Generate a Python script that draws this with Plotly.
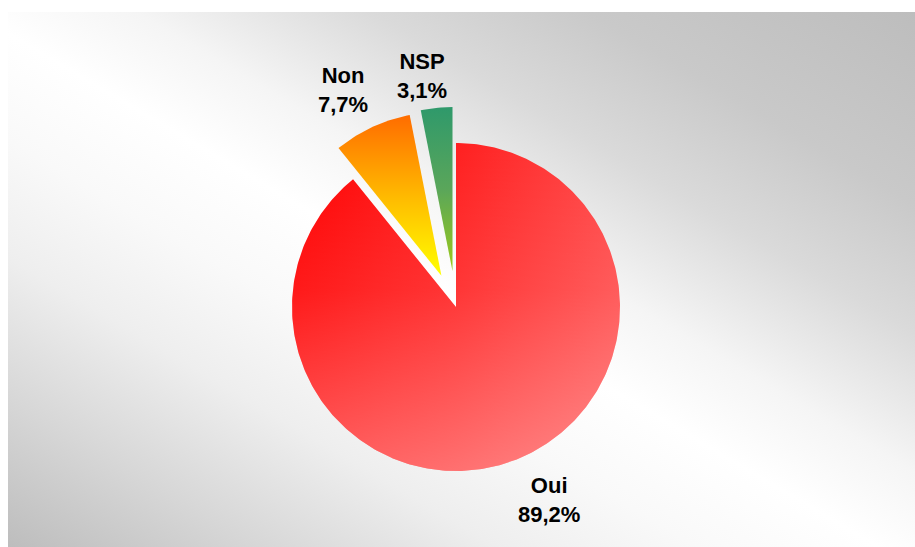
import base64
import numpy as np
import plotly.graph_objects as go

# Survey answers and their shares (%)
labels = ["Oui", "Non", "NSP"]
values = [89.2, 7.7, 3.1]

# ---- layout / styling ----
W, H = 915, 547                 # figure size in px
CX, CY, R = 456, 307, 164       # pie centre (px from top-left) and radius (px)
pulls = [0.0, 0.21, 0.22]       # explode distance, as a fraction of the radius
label_px = [(549, 500), (343, 90), (422, 76)]   # label centres (px from top-left)

# colour ramps per slice: (orientation, colorscale)
fills = [
    ("horizontal", [[0, "#ff0000"], [0.5, "#ff2020"], [1, "#ff4a4a"]]),
    ("vertical", [[0, "#ffff00"], [0.45, "#ffc000"], [1, "#ff6c00"]]),
    ("vertical", [[0, "#9ccb1a"], [0.5, "#5aa65a"], [1, "#2f996b"]]),
]
# extra soft highlight laid over the first slice (lighter towards the bottom)
highlight = [[0, "rgba(255,255,255,0.36)"], [0.55, "rgba(255,255,255,0.10)"],
             [1, "rgba(255,255,255,0)"]]

fig = go.Figure()

total = float(sum(values))
start = 0.0
for i, (lab, v) in enumerate(zip(labels, values)):
    th0 = start
    th1 = start + 2 * np.pi * v / total
    start = th1
    mid = 0.5 * (th0 + th1)
    ox, oy = pulls[i] * np.sin(mid), pulls[i] * np.cos(mid)
    t = np.linspace(th0, th1, max(8, int(400 * v / total)))
    xs = np.concatenate([[ox], ox + np.sin(t), [ox]])
    ys = np.concatenate([[oy], oy + np.cos(t), [oy]])
    orient, cs = fills[i]
    fig.add_trace(go.Scatter(
        x=xs, y=ys, mode="lines", fill="toself",
        line=dict(width=0, color="rgba(0,0,0,0)"),
        fillgradient=dict(type=orient, colorscale=cs),
        hoverinfo="skip", showlegend=False, name=lab,
    ))
    if i == 0:
        fig.add_trace(go.Scatter(
            x=xs, y=ys, mode="lines", fill="toself",
            line=dict(width=0, color="rgba(0,0,0,0)"),
            fillgradient=dict(type="vertical", colorscale=highlight),
            hoverinfo="skip", showlegend=False, name=lab,
        ))

# ---- labels ----
for lab, v, (px, py) in zip(labels, values, label_px):
    pct = f"{v:.1f}".replace(".", ",") + "%"
    fig.add_annotation(
        x=px / W, y=1 - py / H, xref="paper", yref="paper",
        text=f"<b>{lab}<br>{pct}</b>", showarrow=False,
        xanchor="center", yanchor="middle", align="center",
        font=dict(family="Liberation Sans, Arial, sans-serif", size=22, color="#000000"),
    )

# ---- background panel with a diagonal grey/white sheen ----
bx0, by0 = 8, 12
bw, bh = W - bx0, H - by0
svg = (
    f'<svg xmlns="http://www.w3.org/2000/svg" width="{bw}" height="{bh}" '
    f'viewBox="0 0 {bw} {bh}" preserveAspectRatio="none">'
    '<defs><linearGradient id="g" x1="1" y1="0" x2="0" y2="1">'
    '<stop offset="0" stop-color="#bdbdbd"/>'
    '<stop offset="0.18" stop-color="#c9c9c9"/>'
    '<stop offset="0.30" stop-color="#dadada"/>'
    '<stop offset="0.43" stop-color="#f5f5f5"/>'
    '<stop offset="0.52" stop-color="#ffffff"/>'
    '<stop offset="0.62" stop-color="#f9f9f9"/>'
    '<stop offset="0.73" stop-color="#eeeeee"/>'
    '<stop offset="0.86" stop-color="#d7d7d7"/>'
    '<stop offset="1" stop-color="#bdbdbd"/>'
    '</linearGradient></defs>'
    f'<rect x="0" y="0" width="{bw}" height="{bh}" fill="url(#g)"/></svg>'
)
src = "data:image/svg+xml;base64," + base64.b64encode(svg.encode()).decode()
fig.add_layout_image(
    source=src, xref="paper", yref="paper",
    x=bx0 / W, y=1 - by0 / H, sizex=bw / W, sizey=bh / H,
    xanchor="left", yanchor="top", sizing="stretch", layer="below",
)

fig.update_layout(
    width=W, height=H,
    margin=dict(l=0, r=0, t=0, b=0),
    paper_bgcolor="#ffffff",
    plot_bgcolor="rgba(0,0,0,0)",
    xaxis=dict(range=[-CX / R, (W - CX) / R], visible=False, fixedrange=True),
    yaxis=dict(range=[-(H - CY) / R, CY / R], visible=False, fixedrange=True),
)

fig.write_html("out.html")
